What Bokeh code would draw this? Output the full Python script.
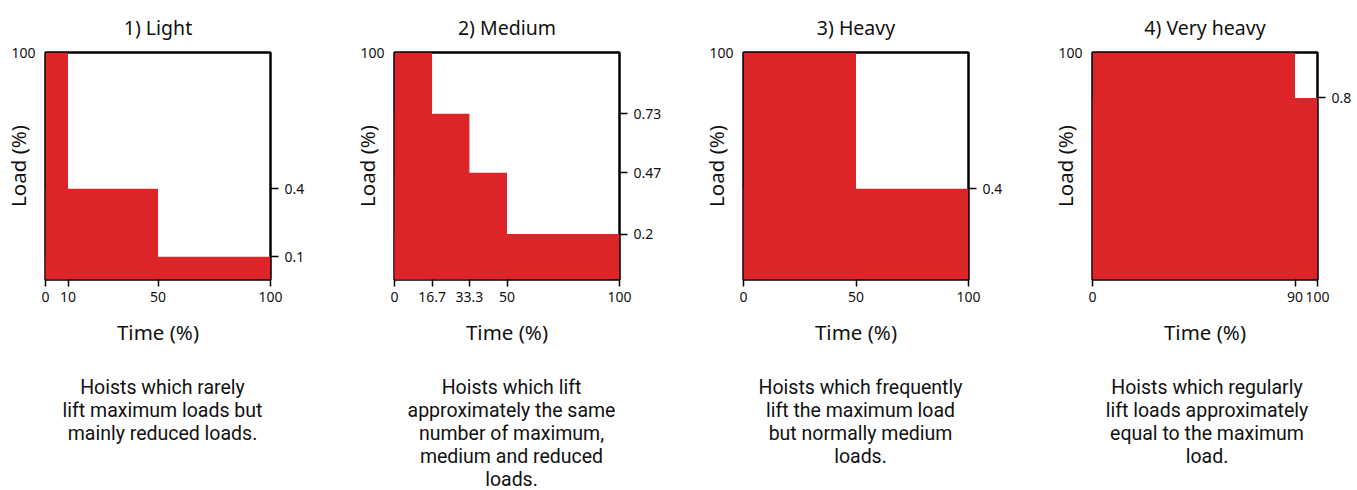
from bokeh.plotting import figure
from bokeh.models import LinearAxis, FixedTicker, Range1d, Div
from bokeh.layouts import row, column
from bokeh.embed import file_html
from bokeh.resources import INLINE

# ---- data ----
categories = ["1) Light", "2) Medium", "3) Heavy", "4) Very heavy"]

time_light = [0, 10, 50, 100]
load_light = [1.0, 0.4, 0.1]

time_medium = [0, 16.7, 33.3, 50, 100]
load_medium = [1.0, 0.73, 0.47, 0.2]

time_heavy = [0, 50, 100]
load_heavy = [1.0, 0.4]

time_vheavy = [0, 90, 100]
load_vheavy = [1.0, 0.8]

time_labels = [
    ["0", "10", "50", "100"],
    ["0", "16.7", "33.3", "50", "100"],
    ["0", "50", "100"],
    ["0", "90", "100"],
]
load_labels = [
    ["0.4", "0.1"],
    ["0.73", "0.47", "0.2"],
    ["0.4"],
    ["0.8"],
]
max_load_label = "100"

descriptions = [
    ["Hoists which rarely", "lift maximum loads but", "mainly reduced loads."],
    ["Hoists which lift", "approximately the same", "number of maximum,",
     "medium and reduced", "loads."],
    ["Hoists which frequently", "lift the maximum load", "but normally medium",
     "loads."],
    ["Hoists which regularly", "lift loads approximately", "equal to the maximum",
     "load."],
]

times = [time_light, time_medium, time_heavy, time_vheavy]
loads = [load_light, load_medium, load_heavy, load_vheavy]

RED = "#DD2428"
FONT = "Noto Sans"
INK = "#111111"

cols = []
for i in range(4):
    last = i == 3
    rb = 40 if last else 79
    t = times[i]
    ld = loads[i]
    p = figure(frame_width=225, frame_height=227,
               x_range=Range1d(0, 100), y_range=Range1d(0, 1),
               output_backend="svg", toolbar_location=None,
               min_border_left=45, min_border_right=rb,
               min_border_top=52, min_border_bottom=92,
               title=categories[i],
               x_axis_label="Time (%)", y_axis_label="Load (%)")
    p.title.align = "center"
    p.title.text_font = FONT
    p.title.text_font_size = "19.5px"
    p.title.text_font_style = "normal"
    p.title.text_color = INK
    p.title.standoff = 23

    p.grid.visible = False
    p.outline_line_color = "black"
    p.outline_line_width = 2.5
    p.background_fill_color = "white"
    p.border_fill_color = "white"

    # staircase: each level spans from time 0 to its end time (no seams)
    p.quad(left=[t[0]] * len(ld), right=t[1:], bottom=0, top=ld,
           fill_color=RED, line_color=None)

    # bottom axis
    xa = p.xaxis[0]
    xa.ticker = FixedTicker(ticks=t)
    xa.major_label_overrides = {v: s for v, s in zip(t, time_labels[i])}
    xa.axis_line_color = None
    xa.major_tick_out = 7
    xa.major_tick_in = 0
    xa.major_tick_line_width = 1.5
    xa.minor_tick_line_color = None
    xa.major_label_standoff = 5
    xa.major_label_text_font = FONT
    xa.major_label_text_font_size = "14px"
    xa.major_label_text_color = INK
    xa.axis_label_standoff = 13
    xa.axis_label_text_font = FONT
    xa.axis_label_text_font_size = "20.5px"
    xa.axis_label_text_font_style = "normal"
    xa.axis_label_text_color = INK

    # left axis: only the maximum load mark
    ya = p.yaxis[0]
    ya.ticker = FixedTicker(ticks=[ld[0]])
    ya.major_label_overrides = {ld[0]: max_load_label}
    ya.axis_line_color = None
    ya.major_tick_out = 0
    ya.major_tick_in = 0
    ya.minor_tick_line_color = None
    ya.major_label_standoff = 10
    ya.major_label_text_baseline = "top"
    ya.major_label_text_font = FONT
    ya.major_label_text_font_size = "14px"
    ya.major_label_text_color = INK
    ya.axis_label_standoff = -24
    ya.axis_label_text_font = FONT
    ya.axis_label_text_font_size = "20.5px"
    ya.axis_label_text_font_style = "normal"
    ya.axis_label_text_color = INK

    # right axis: reduced load levels
    ra = LinearAxis(ticker=FixedTicker(ticks=ld[1:]),
                    major_label_overrides={v: s for v, s in zip(ld[1:], load_labels[i])})
    ra.axis_line_color = None
    ra.major_tick_out = 8
    ra.major_tick_in = 0
    ra.major_tick_line_width = 1.5
    ra.minor_tick_line_color = None
    ra.major_label_standoff = 6
    ra.major_label_text_font = FONT
    ra.major_label_text_font_size = "14px"
    ra.major_label_text_color = INK
    p.add_layout(ra, "right")

    dw = 270 + rb if last else 315
    d = Div(text="<br>".join(descriptions[i]), width=dw, height=119,
            styles={"font-family": "Roboto", "font-size": "19.5px",
                    "line-height": "23px", "text-align": "center",
                    "color": INK})
    cols.append(column(p, d, spacing=0))

layout = row(*cols, spacing=0)
open("out.html", "w").write(file_html(layout, INLINE))
